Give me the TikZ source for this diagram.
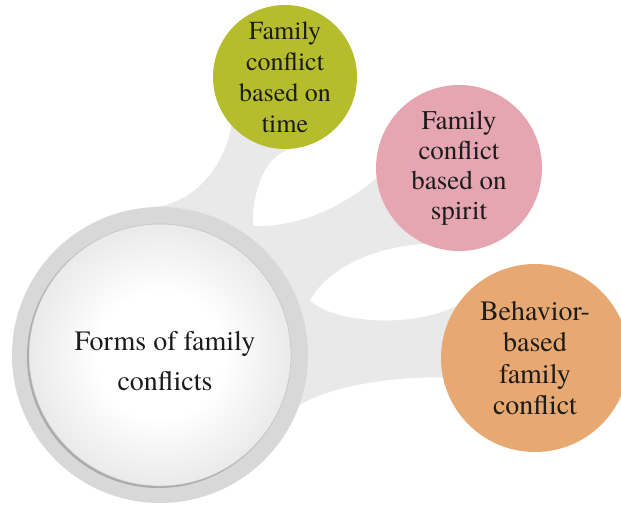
\documentclass[tikz,border=0pt]{standalone}
\usepackage{fontspec}
\setmainfont{texgyretermes}[Extension=.otf, UprightFont=*-regular, BoldFont=*-bold]
\usetikzlibrary{backgrounds}

\definecolor{bandgray}{RGB}{233,233,233}
\definecolor{ringgray}{RGB}{216,216,216}
\definecolor{ringshadow}{RGB}{170,170,170}
\definecolor{discedge}{RGB}{234,234,234}
\definecolor{discline}{RGB}{196,196,196}
\definecolor{limefill}{RGB}{181,189,44}
\definecolor{rosefill}{RGB}{229,165,177}
\definecolor{apricotfill}{RGB}{231,169,113}
\definecolor{inktext}{RGB}{28,28,28}

\pgfdeclareradialshading{discshade}{\pgfpoint{0bp}{0bp}}{%
  color(0bp)=(white); color(12bp)=(white); color(25bp)=(discedge); color(50bp)=(discedge)}

\begin{document}
\begin{tikzpicture}[x=1pt, y=-1pt,
  bubble/.style={circle, inner sep=0pt, outer sep=0pt, align=center, text=inktext},
  band/.style={fill=bandgray},
  leaf/.style={bubble, font=\fontsize{27}{30}\selectfont}]

\clip (0,0) rectangle (621,507);

% hub: grey ring, soft shadow, shaded disc and caption
\node[bubble, minimum size=296, fill=ringgray] (hub) at (160,355) {};
\fill[ringshadow] (158.5,356.5) circle (131.5);
\node[bubble, minimum size=262, shading=discshade, draw=discline, line width=0.6pt] (hubdisc) at (160,355) {};
\node[bubble, font=\fontsize{28}{40}\selectfont] (hubtext) at (165,361) {Forms of family\\conflicts};

% satellite bubbles
\node[leaf, minimum size=144, fill=limefill, font=\fontsize{26}{31}\selectfont] (time) at (285,77)
  {Family\\conflict\\based on\\time};
\node[leaf, minimum size=166, fill=rosefill] (spirit) at (459,168)
  {Family\\conflict\\based on\\spirit};
\node[leaf, minimum size=188, fill=apricotfill, font=\fontsize{28}{31.5}\selectfont] (behavior) at (535,358)
  {Behavior-\\based\\family\\conflict};

% junctions where neighbouring bands merge
\coordinate (j1) at (253,226);
\coordinate (j2) at (310,300);

\begin{scope}[on background layer]
  \fill[white] (0,0) rectangle (621,507);
  \fill[band] (hub.94) .. controls (195,205) and (225,165) .. (time.222)
    -- (time.center) -- (time.274)
    .. controls (262,158) and (252,195) .. (j1)
    .. controls (300,228) and (345,205) .. (spirit.187)
    -- (spirit.center) -- (spirit.246)
    .. controls (380,246) and (330,265) .. (j2)
    .. controls (330,322) and (410,330) .. (behavior.146)
    -- (behavior.center) -- (behavior.192)
    .. controls (400,376) and (330,385) .. (hub.340)
    -- (hub.center) -- cycle;
\end{scope}
\end{tikzpicture}
\end{document}
